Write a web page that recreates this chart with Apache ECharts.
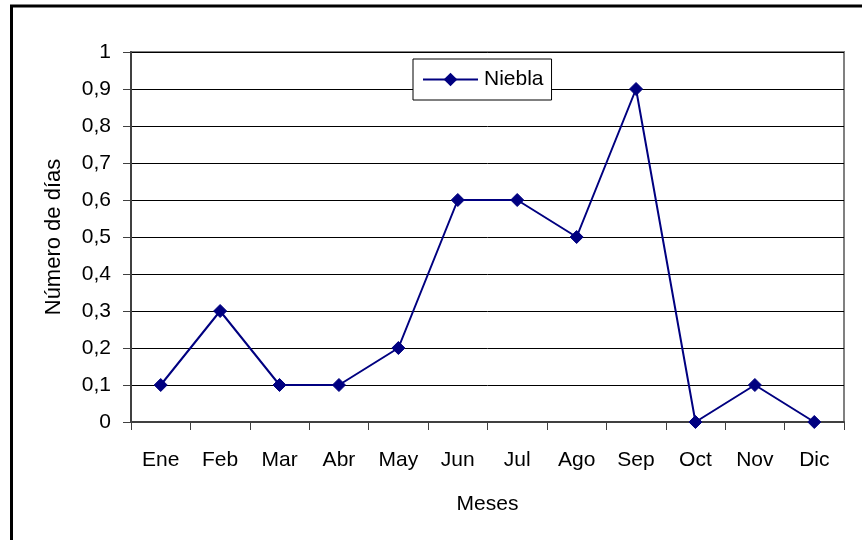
<!DOCTYPE html>
<html>
<head>
<meta charset="utf-8">
<script src="https://cdn.jsdelivr.net/npm/echarts@6/dist/echarts.min.js"></script>
<style>
  html, body { margin: 0; padding: 0; background: #ffffff; }
  #chart { width: 862px; height: 540px; }
</style>
</head>
<body>
<div id="chart"></div>
<script>
// Monthly fog days
const meses = ['Ene', 'Feb', 'Mar', 'Abr', 'May', 'Jun', 'Jul', 'Ago', 'Sep', 'Oct', 'Nov', 'Dic'];
const niebla = [0.1, 0.3, 0.1, 0.1, 0.2, 0.6, 0.6, 0.5, 0.9, 0, 0.1, 0];
const serieNombre = 'Niebla';
const ejeX = 'Meses';
const ejeY = 'Número de días';

const FONT = "'Liberation Sans', Arial, sans-serif";
const NAVY = '#000080';

const chart = echarts.init(document.getElementById('chart'), null, { renderer: 'canvas' });

chart.setOption({
  animation: false,
  backgroundColor: '#ffffff',
  textStyle: { fontFamily: FONT, color: '#000000' },
  grid: {
    left: 131, right: 18, top: 52, bottom: 118,
    show: true,
    borderColor: '#808080',
    borderWidth: 2,
    backgroundColor: 'transparent'
  },
  legend: {
    data: [serieNombre],
    left: 413, top: 59,
    padding: [10, 8, 10, 9],
    itemWidth: 55,
    itemHeight: 17,
    itemGap: 0,
    backgroundColor: '#ffffff',
    borderColor: '#000000',
    borderWidth: 1,
    borderRadius: 0,
    selectedMode: false,
    textStyle: { fontFamily: FONT, fontSize: 21, color: '#000000', padding: [0, 0, 0, 1] }
  },
  xAxis: {
    type: 'category',
    data: meses,
    boundaryGap: true,
    name: ejeX,
    nameLocation: 'middle',
    nameGap: 72,
    nameTextStyle: { fontFamily: FONT, fontSize: 21, color: '#000000' },
    axisLine: { show: true, lineStyle: { color: '#404040', width: 2 } },
    axisTick: { show: true, alignWithLabel: false, length: 8, lineStyle: { color: '#404040', width: 1 } },
    axisLabel: { margin: 28, fontFamily: FONT, fontSize: 21, color: '#000000' },
    splitLine: { show: false }
  },
  yAxis: {
    type: 'value',
    min: 0, max: 1, interval: 0.1,
    name: ejeY,
    nameLocation: 'middle',
    nameGap: 66,
    nameRotate: 90,
    nameTextStyle: { fontFamily: FONT, fontSize: 22, color: '#000000' },
    axisLine: { show: true, lineStyle: { color: '#404040', width: 2 } },
    axisTick: { show: true, inside: false, length: 8, lineStyle: { color: '#404040', width: 1 } },
    axisLabel: {
      margin: 20, fontFamily: FONT, fontSize: 21, color: '#000000',
      formatter: v => String(Math.round(v * 10) / 10).replace('.', ',')
    },
    splitLine: { show: true, lineStyle: { color: '#000000', width: 1 } }
  },
  series: [{
    name: serieNombre,
    type: 'line',
    data: niebla,
    symbol: 'diamond',
    symbolSize: 13,
    showAllSymbol: true,
    lineStyle: { color: NAVY, width: 2 },
    itemStyle: { color: NAVY, borderColor: NAVY },
    emphasis: { disabled: true }
  }],
  graphic: [{
    type: 'rect',
    silent: true,
    z: 100,
    shape: { x: 11.5, y: 6, width: 870, height: 560 },
    style: { fill: null, stroke: '#000000', lineWidth: 3 }
  }]
});
</script>
</body>
</html>
